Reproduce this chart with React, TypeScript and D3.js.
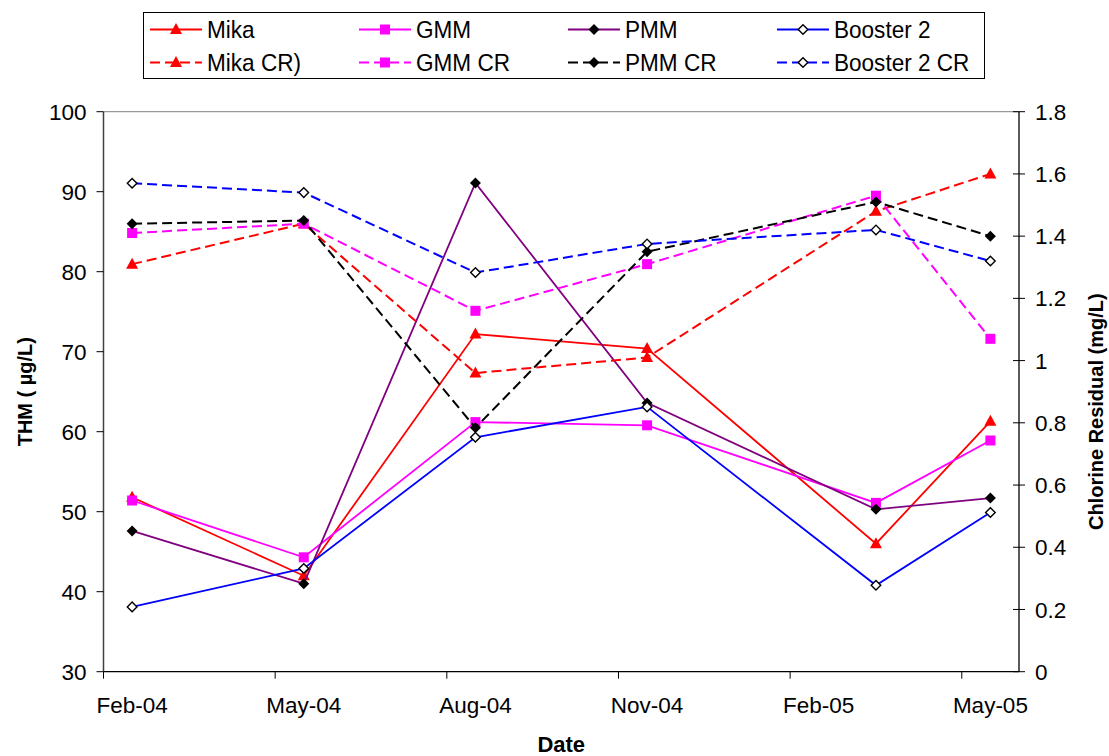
import React from "react";
import * as d3 from "d3";

// Sampling dates (first day of the month sampled)
const sampleMonths = ["2004-02", "2004-05", "2004-08", "2004-11", "2005-03", "2005-05"];

// THM concentrations (µg/L), left axis
const mikaTHM = [51.8, 42.0, 72.2, 70.4, 46.0, 61.3];
const gmmTHM = [51.4, 44.3, 61.2, 60.8, 51.1, 58.9];
const pmmTHM = [47.6, 41.0, 91.1, 63.6, 50.3, 51.7];
const boosterTHM = [38.1, 42.9, 59.3, 63.1, 40.8, 49.9];

// Chlorine residual (mg/L), right axis
const mikaCR = [1.31, 1.44, 0.96, 1.01, 1.48, 1.6];
const gmmCR = [1.41, 1.44, 1.16, 1.31, 1.53, 1.07];
const pmmCR = [1.44, 1.45, 0.784, 1.35, 1.51, 1.4];
const boosterCR = [1.57, 1.54, 1.283, 1.375, 1.42, 1.32];

const leftTicks = [30, 40, 50, 60, 70, 80, 90, 100];
const rightTicks = [0, 0.2, 0.4, 0.6, 0.8, 1, 1.2, 1.4, 1.6, 1.8];
const xTickLabels = ["Feb-04", "May-04", "Aug-04", "Nov-04", "Feb-05", "May-05"];

type Marker = "triangle" | "square" | "diamond" | "openDiamond";

interface Series {
  name: string;
  values: number[];
  color: string;
  marker: Marker;
  dashed: boolean;
  axis: "left" | "right";
}

const series: Series[] = [
  { name: "Mika", values: mikaTHM, color: "#FF0000", marker: "triangle", dashed: false, axis: "left" },
  { name: "GMM", values: gmmTHM, color: "#FF00FF", marker: "square", dashed: false, axis: "left" },
  { name: "PMM", values: pmmTHM, color: "#800080", marker: "diamond", dashed: false, axis: "left" },
  { name: "Booster 2", values: boosterTHM, color: "#0000FF", marker: "openDiamond", dashed: false, axis: "left" },
  { name: "Mika CR)", values: mikaCR, color: "#FF0000", marker: "triangle", dashed: true, axis: "right" },
  { name: "GMM CR", values: gmmCR, color: "#FF00FF", marker: "square", dashed: true, axis: "right" },
  { name: "PMM CR", values: pmmCR, color: "#000000", marker: "diamond", dashed: true, axis: "right" },
  { name: "Booster 2 CR", values: boosterCR, color: "#0000FF", marker: "openDiamond", dashed: true, axis: "right" },
];

const FONT = "'Liberation Sans', Arial, sans-serif";

const W = 1109;
const H = 756;
const plot = { left: 103.5, right: 1019, top: 111.7, bottom: 671.7 };

const parseMonth = d3.timeParse("%Y-%m");
const axisStart = parseMonth("2004-02")!;
const axisEnd = parseMonth("2005-06")!;
const totalMonths = d3.timeMonth.count(axisStart, axisEnd);

// Months sit in equal slots; a point is drawn at its slot's centre
const xMonth = d3.scaleLinear().domain([0, totalMonths]).range([plot.left, plot.right]);
const xOf = (m: string) => xMonth(d3.timeMonth.count(axisStart, parseMonth(m)!) + 0.5);

const yLeft = d3.scaleLinear().domain([30, 100]).range([plot.bottom, plot.top]);
const yRight = d3.scaleLinear().domain([0, 1.8]).range([plot.bottom, plot.top]);

function MarkerShape({ kind, x, y, color }: { kind: Marker; x: number; y: number; color: string }) {
  if (kind === "triangle") {
    const p = d3.path();
    p.moveTo(x, y - 6.5);
    p.lineTo(x + 6, y + 4.5);
    p.lineTo(x - 6, y + 4.5);
    p.closePath();
    return <path d={p.toString()} fill={color} />;
  }
  if (kind === "square") {
    return <rect x={x - 5} y={y - 5} width={10} height={10} fill={color} />;
  }
  const r = kind === "diamond" ? 5.5 : 4.8;
  const p = d3.path();
  p.moveTo(x, y - r);
  p.lineTo(x + r, y);
  p.lineTo(x, y + r);
  p.lineTo(x - r, y);
  p.closePath();
  if (kind === "diamond") return <path d={p.toString()} fill="#000" />;
  return <path d={p.toString()} fill="#fff" stroke="#000" strokeWidth={1.4} />;
}

export default function App() {
  const line = d3
    .line<[number, number]>()
    .x((d) => d[0])
    .y((d) => d[1]);

  const xTickIdx = d3.range(0, totalMonths, 3);

  const legendCols = [150, 359, 568, 777];
  const legendRows = [29.5, 62.5];

  return (
    <svg width={W} height={H} style={{ display: "block", position: "absolute", left: 0, top: 0 }} fontFamily={FONT}>
      <rect x={0} y={0} width={W} height={H} fill="#fff" />

      {/* plot frame */}
      <line x1={plot.left} x2={plot.right} y1={plot.top} y2={plot.top} stroke="#808080" strokeWidth={1} />

      {/* left axis */}
      <line x1={plot.left} x2={plot.left} y1={plot.top} y2={plot.bottom} stroke="#404040" strokeWidth={1.5} />
      {leftTicks.map((t) => (
        <g key={"l" + t}>
          <line x1={plot.left - 7} x2={plot.left} y1={yLeft(t)} y2={yLeft(t)} stroke="#000" strokeWidth={1} />
          <text x={plot.left - 17} y={yLeft(t)} dy="0.36em" textAnchor="end" fontSize={22.5} fill="#000">
            {t}
          </text>
        </g>
      ))}

      {/* right axis */}
      <line x1={plot.right} x2={plot.right} y1={plot.top} y2={plot.bottom} stroke="#000" strokeWidth={1.3} />
      {rightTicks.map((t) => (
        <g key={"r" + t}>
          <line x1={plot.right - 6} x2={plot.right + 6} y1={yRight(t)} y2={yRight(t)} stroke="#000" strokeWidth={1} />
          <text x={plot.right + 16} y={yRight(t)} dy="0.36em" textAnchor="start" fontSize={22.5} fill="#000">
            {t}
          </text>
        </g>
      ))}

      {/* bottom axis */}
      <line x1={plot.left} x2={plot.right} y1={plot.bottom} y2={plot.bottom} stroke="#000" strokeWidth={1.3} />
      {xTickIdx.map((i, k) => (
        <g key={"x" + i}>
          <line x1={xMonth(i)} x2={xMonth(i)} y1={plot.bottom} y2={plot.bottom + 7} stroke="#000" strokeWidth={1} />
          <text x={xMonth(i + 0.5)} y={plot.bottom + 41} textAnchor="middle" fontSize={22.5} fill="#000">
            {xTickLabels[k]}
          </text>
        </g>
      ))}

      {/* axis titles */}
      <text x={(plot.left + plot.right) / 2} y={752} textAnchor="middle" fontSize={22} fontWeight="bold" fill="#000">
        Date
      </text>
      <text
        transform={`translate(32, ${(plot.top + plot.bottom) / 2}) rotate(-90)`}
        textAnchor="middle"
        fontSize={20}
        fontWeight="bold"
        fill="#000"
      >
        THM ( µg/L)
      </text>
      <text
        transform={`translate(1103, ${(plot.top + plot.bottom) / 2 + 20}) rotate(-90)`}
        textAnchor="middle"
        fontSize={20}
        fontWeight="bold"
        fill="#000"
      >
        Chlorine Residual (mg/L)
      </text>

      {/* series */}
      {series.map((s) => {
        const yS = s.axis === "left" ? yLeft : yRight;
        const pts: [number, number][] = s.values.map((v, i) => [xOf(sampleMonths[i]), yS(v)]);
        return (
          <g key={s.name}>
            <path
              d={line(pts) ?? ""}
              fill="none"
              stroke={s.color}
              strokeWidth={s.dashed ? 2 : 1.8}
              strokeDasharray={s.dashed ? "10 5" : undefined}
            />
            {pts.map((p, i) => (
              <MarkerShape key={i} kind={s.marker} x={p[0]} y={p[1]} color={s.color} />
            ))}
          </g>
        );
      })}

      {/* legend */}
      <rect x={143.5} y={12.5} width={841} height={66} fill="#fff" stroke="#000" strokeWidth={1} />
      {series.map((s, i) => {
        const cx = legendCols[i % 4];
        const cy = legendRows[Math.floor(i / 4)];
        return (
          <g key={"lg" + s.name}>
            <line
              x1={cx}
              x2={cx + 52}
              y1={cy}
              y2={cy}
              stroke={s.color}
              strokeWidth={2}
              strokeDasharray={s.dashed ? "10 5" : undefined}
            />
            <MarkerShape kind={s.marker} x={cx + 26} y={cy} color={s.color} />
            <text
              transform={`translate(${cx + 57}, ${cy}) scale(0.94, 1)`}
              dy="0.36em"
              fontSize={24}
              fill="#000"
            >
              {s.name}
            </text>
          </g>
        );
      })}
    </svg>
  );
}
